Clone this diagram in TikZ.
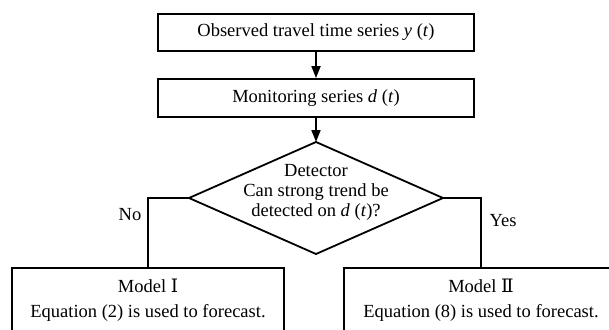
\documentclass[tikz,border=0pt]{standalone}
\usepackage{fontspec}
\setmainfont{Liberation Serif}
\newfontfamily\numfont{DejaVu Serif}
\usetikzlibrary{arrows.meta}
\begin{document}
\begin{tikzpicture}[x=1pt,y=-1pt,line width=1.8pt,
  every node/.style={font=\fontsize{18.5}{21}\selectfont, inner sep=0pt},
  box/.style={draw, minimum width=316pt},
  lbox/.style={draw, align=center, minimum height=64pt, font=\fontsize{18.5}{25}\selectfont},
  arr/.style={-{Triangle[width=9pt,length=12pt]}}]
\useasboundingbox (0,0) rectangle (609,329);
\clip (0,0) rectangle (609,329);
\node[box, minimum height=37pt] (obs) at (316,32.5) {Observed travel time series \textit{y} (\textit{t})};
\node[box, minimum height=38pt] (mon) at (316,98) {Monitoring series \textit{d} (\textit{t})};
\node[align=center, font=\fontsize{18.5}{20}\selectfont] (det) at (316,192) {Detector\\Can strong trend be\\detected on \textit{d} (\textit{t})?};
\coordinate (dT) at (316,142);
\coordinate (dR) at (443,198);
\coordinate (dB) at (316,254);
\coordinate (dL) at (189,198);
\draw (dT) -- (dR) -- (dB) -- (dL) -- cycle;
\node[lbox, minimum width=272pt] (m1) at (148,300) {Model {\numfont Ⅰ}\\Equation (2) is used to forecast.};
\node[lbox, minimum width=274pt] (m2) at (481,300) {Model {\numfont Ⅱ}\\Equation (8) is used to forecast.};
\draw[arr] (obs) -- (mon);
\draw[arr] (mon) -- (dT);
\draw (dL) -| (m1.north);
\draw (dR) -| (m2.north);
\node (no) at (130,215) {No};
\node (yes) at (503,221) {Yes};
\end{tikzpicture}
\end{document}
